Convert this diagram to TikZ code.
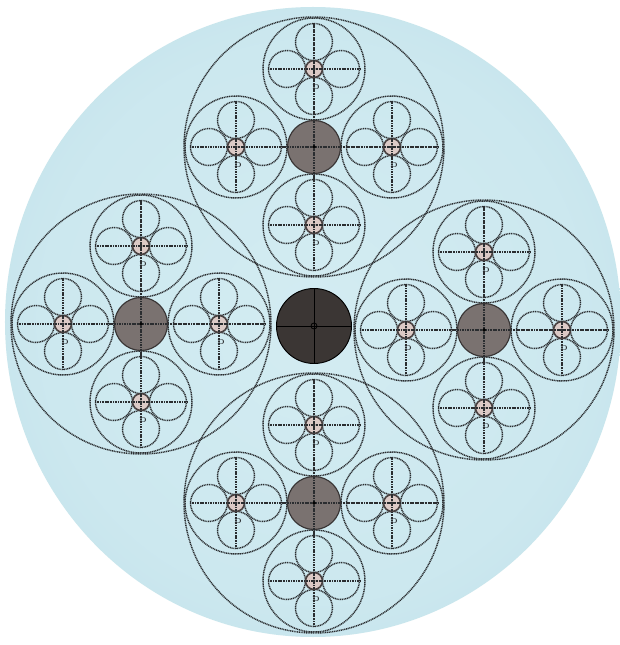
\documentclass[tikz,border=0pt]{standalone}
\usepackage{xcolor}
\usetikzlibrary{calc}
\definecolor{SkyIn}{HTML}{D3ECF2}
\definecolor{SkyOut}{HTML}{B0D7E2}
\definecolor{Ink}{HTML}{2A2D30}
\definecolor{HubFill}{HTML}{7A7270}
\definecolor{HubEdge}{HTML}{3A3636}
\definecolor{CoreFill}{HTML}{3B3634}
\definecolor{SeedFill}{HTML}{DCCAC6}
\definecolor{SeedEdge}{HTML}{4A4242}
\pgfdeclareradialshading{skyglow}{\pgfpoint{0bp}{0bp}}{color(0bp)=(SkyIn); color(22bp)=(SkyIn!80!SkyOut); color(50bp)=(SkyOut)}
\tikzset{ring/.style={draw=Ink,line width=1.25pt,dash pattern=on 0.9pt off 0.6pt},axisline/.style={draw=Ink,line width=1.3pt,dash pattern=on 0.9pt off 0.5pt},hub/.style={circle,draw=HubEdge,line width=1pt,fill=HubFill,minimum size=1.59cm,inner sep=0pt},core/.style={circle,draw=black,line width=0.8pt,fill=CoreFill,minimum size=2.25cm,inner sep=0pt},seed/.style={circle,draw=SeedEdge,line width=1.4pt,fill=SeedFill,minimum size=0.51cm,inner sep=0pt},tag/.style={font=\fontsize{6}{6}\selectfont\bfseries,text=Ink,inner sep=0pt}}

\begin{document}
\begin{tikzpicture}[x=0.03cm,y=0.03cm]
\useasboundingbox (-314,-319) rectangle (306,326);
\fill[white] (-314,-319) rectangle (306,326);
\shade[shading=skyglow] (-1,4) ellipse [x radius=308,y radius=315];
% four clusters round the core
\foreach \g/\gx/\gy in {n/0/179,e/170/-4,s/0/-177,w/-173/2}{
  \coordinate (grp-\g) at (\gx,\gy);
  \draw[ring] (grp-\g) circle (130);
  \foreach \a in {0,90,180,270}{
    \coordinate (fl-\g-\a) at ($(grp-\g)+(\a:78)$);
    \draw[ring] (fl-\g-\a) circle (51);
    \foreach \b in {0,90,180,270}
      \draw[ring] ($(fl-\g-\a)+(\b:27)$) circle (18.5);
    \node[seed] (seed-\g-\a) at (fl-\g-\a) {};
    \draw[axisline] ($(fl-\g-\a)+(-46,0)$) -- ($(fl-\g-\a)+(46,0)$);
    \draw[axisline] ($(fl-\g-\a)+(0,-46)$) -- ($(fl-\g-\a)+(0,46)$);
    \draw[Ink,fill=Ink] (seed-\g-\a) circle (1.2);
    \node[tag] (d-\g-\a) at ($(fl-\g-\a)+(2,-18)$) {D};
  }
  \node[hub] (hub-\g) at (grp-\g) {};
  \draw[axisline] ($(grp-\g)+(-124,0)$) -- ($(grp-\g)+(124,0)$);
  \draw[axisline] ($(grp-\g)+(0,-124)$) -- ($(grp-\g)+(0,124)$);
  \draw[black,fill=black] (hub-\g) circle (1.5);
}
\node[core] (core) at (0,0) {};
\draw[black,line width=0.7pt] (core.west) -- (core.east) (core.north) -- (core.south);
\draw[black,line width=0.7pt] (core) circle (3);
\end{tikzpicture}
\end{document}
